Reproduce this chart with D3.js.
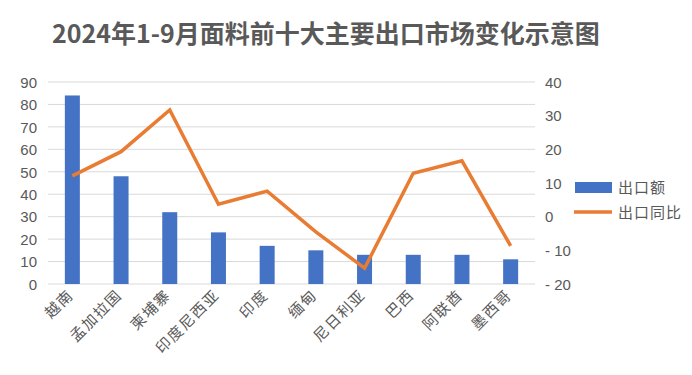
<!DOCTYPE html>
<html lang="en">
<head>
<meta charset="utf-8">
<script src="https://d3js.org/d3.v7.min.js"></script>
<style type="text/css">
body {
  margin: 0;
  background-color: #ffffff;
  font-family: "Noto Sans CJK SC", "Noto Sans", sans-serif;
}
.axis text {
  font-size: 15px;
  fill: #595959;
}
</style>
</head>
<body>
<script type="text/javascript">

// data
var markets = ["越南", "孟加拉国", "柬埔寨", "印度尼西亚", "印度", "缅甸", "尼日利亚", "巴西", "阿联酋", "墨西哥"];
var exportValue = [84, 48, 32, 23, 17, 15, 13, 13, 13, 11];
var exportYoY = [12.1, 19.3, 31.7, 3.7, 7.6, -4.5, -15.3, 12.9, 16.6, -8.7];
var leftTicks = [0, 10, 20, 30, 40, 50, 60, 70, 80, 90];
var rightTicks = [-20, -10, 0, 10, 20, 30, 40];
var seriesNames = ["出口额", "出口同比"];

var width = 692;
var height = 375;
var margin = {left: 48, right: 157, top: 82, bottom: 91};

var barColor = "#4472c4";
var lineColor = "#e97c33";

var svg = d3.select("body")
  .append("svg")
  .attr("width", width)
  .attr("height", height);

// title
svg.append("text")
  .attr("x", 52)
  .attr("y", 43)
  .style("font-size", "25px")
  .style("font-weight", "bold")
  .style("fill", "#595959")
  .text("2024年1-9月面料前十大主要出口市场变化示意图");

var x = d3.scaleBand()
  .domain(markets)
  .range([margin.left, width - margin.right]);

var yLeft = d3.scaleLinear()
  .domain([0, 90])
  .range([height - margin.bottom, margin.top]);

var yRight = d3.scaleLinear()
  .domain([-20, 40])
  .range([height - margin.bottom, margin.top]);

// grid lines
svg.append("g")
  .selectAll("line")
  .data(leftTicks)
  .enter()
  .append("line")
  .attr("x1", margin.left)
  .attr("x2", width - margin.right)
  .attr("y1", function(d) { return yLeft(d); })
  .attr("y2", function(d) { return yLeft(d); })
  .style("stroke", "#d9d9d9")
  .style("stroke-width", 1);

// left axis
var gl = svg.append("g")
  .attr("class", "axis")
  .attr("transform", "translate(" + (margin.left - 8) + ",0)")
  .call(d3.axisLeft(yLeft).tickValues(leftTicks).tickSize(0));
gl.select(".domain").remove();
gl.selectAll("text").attr("dy", "0.35em").attr("x", -3);

// right axis
var gr = svg.append("g")
  .attr("class", "axis")
  .attr("transform", "translate(" + (width - margin.right + 10) + ",0)")
  .call(d3.axisRight(yRight).tickValues(rightTicks).tickSize(0)
    .tickFormat(function(d) { return d < 0 ? "- " + Math.abs(d) : d; }));
gr.select(".domain").remove();
gr.selectAll("text").attr("dy", "0.35em").attr("x", 0);

// bars
var barW = 15;
svg.append("g")
  .selectAll("rect")
  .data(exportValue)
  .enter()
  .append("rect")
  .attr("x", function(d, i) { return x(markets[i]) + x.bandwidth() / 2 - barW / 2; })
  .attr("y", function(d) { return yLeft(d); })
  .attr("width", barW)
  .attr("height", function(d) { return yLeft(0) - yLeft(d); })
  .style("fill", barColor);

// line
var line = d3.line()
  .x(function(d, i) { return x(markets[i]) + x.bandwidth() / 2; })
  .y(function(d) { return yRight(d); });

svg.append("path")
  .datum(exportYoY)
  .attr("d", line)
  .style("fill", "none")
  .style("stroke", lineColor)
  .style("stroke-width", 3.5)
  .style("stroke-linejoin", "miter");

// x labels
svg.append("g")
  .attr("class", "axis")
  .selectAll("text")
  .data(markets)
  .enter()
  .append("text")
  .attr("transform", function(d) {
    return "translate(" + (x(d) + x.bandwidth() / 2 + 2) + "," + 296 + ") rotate(-45)";
  })
  .style("text-anchor", "end")
  .style("letter-spacing", "1.5px")
  .text(function(d) { return d; });

// legend
var lg = svg.append("g").attr("transform", "translate(575,0)");
lg.append("rect")
  .attr("x", 0)
  .attr("y", 182)
  .attr("width", 37)
  .attr("height", 11)
  .style("fill", barColor);
lg.append("line")
  .attr("x1", -1)
  .attr("x2", 37)
  .attr("y1", 212)
  .attr("y2", 212)
  .style("stroke", lineColor)
  .style("stroke-width", 3.5);
lg.selectAll(".ltxt")
  .data(seriesNames)
  .enter()
  .append("text")
  .attr("class", "ltxt")
  .attr("x", 43)
  .attr("y", function(d, i) { return 188 + i * 25; })
  .attr("dy", "0.35em")
  .style("font-size", "15px")
  .style("letter-spacing", "1px")
  .style("fill", "#595959")
  .text(function(d) { return d; });

</script>
</body>
</html>
